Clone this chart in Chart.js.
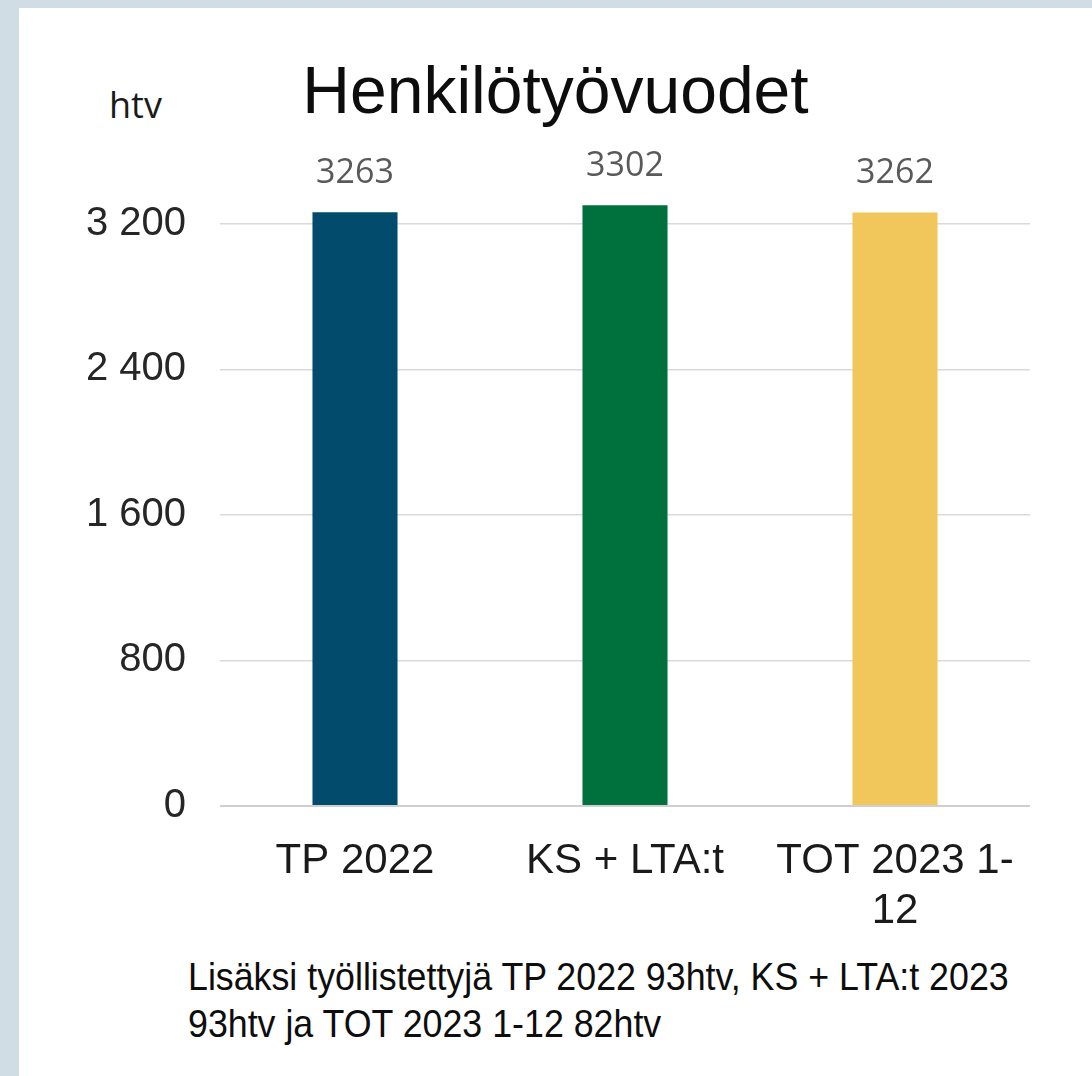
<!DOCTYPE html>
<html>
<head>
<meta charset="utf-8">
<script src="https://cdn.jsdelivr.net/npm/chart.js@4.4.0/dist/chart.umd.min.js"></script>
<style>
  html, body { margin: 0; padding: 0; }
  body { width: 1092px; height: 1076px; background: #d0dde4; position: relative; overflow: hidden; }
  #panel { position: absolute; left: 19px; top: 8px; right: 0; bottom: 0; background: #ffffff; }
  #wrap { position: absolute; left: 0; top: 0; width: 1092px; height: 950px; }
  #title { position: absolute; left: 19px; width: 1073px; top: 50px; text-align: center;
           font-family: "Liberation Sans", Arial, sans-serif; font-size: 66px; color: #0d0d0d; line-height: 80px; }
  #unit { position: absolute; left: 109px; top: 80px; font-family: "Open Sans", sans-serif; font-size: 36px; color: #1a1a1a; line-height: 50px; }
  #note { position: absolute; left: 188px; top: 953px; font-family: "Liberation Sans", Arial, sans-serif; white-space: nowrap;
          font-size: 39px; color: #0d0d0d; line-height: 47px; transform: scaleX(0.917); transform-origin: left top; }
</style>
</head>
<body>
<div id="panel"></div>
<div id="title">Henkilötyövuodet</div>
<div id="unit">htv</div>
<div id="wrap"><canvas id="c" width="1092" height="950"></canvas></div>
<div id="note">Lisäksi työllistettyjä TP 2022 93htv, KS + LTA:t 2023<br>93htv ja TOT 2023 1-12 82htv</div>
<script>
const categories = [["TP 2022"], ["KS + LTA:t"], ["TOT 2023 1-", "12"]];
const values = [3263, 3302, 3262];
const barColors = ["#024b6d", "#00713d", "#f1c65b"];
const yTicks = [0, 800, 1600, 2400, 3200];

function fmt(v) { return String(v).replace(/\B(?=(\d{3})+(?!\d))/g, " "); }

const valueLabels = {
  id: "valueLabels",
  afterDatasetsDraw(chart) {
    const ctx = chart.ctx;
    const meta = chart.getDatasetMeta(0);
    ctx.save();
    ctx.font = "34px 'Open Sans', sans-serif";
    ctx.fillStyle = "#595959";
    ctx.textAlign = "center";
    ctx.textBaseline = "alphabetic";
    meta.data.forEach((bar, i) => {
      ctx.fillText(String(values[i]), bar.x, bar.y - 29);
    });
    ctx.restore();
  }
};

new Chart(document.getElementById("c"), {
  type: "bar",
  data: {
    labels: categories,
    datasets: [{
      data: values,
      backgroundColor: barColors,
      borderWidth: 0,
      categoryPercentage: 1,
      barPercentage: 0.315
    }]
  },
  options: {
    responsive: false,
    animation: false,
    events: [],
    layout: { padding: { left: 20, right: 62, top: 151, bottom: 0 } },
    plugins: { legend: { display: false }, tooltip: { enabled: false }, title: { display: false } },
    scales: {
      x: {
        grid: { display: false, drawTicks: false },
        border: { display: false },
        ticks: { font: { family: "'Liberation Sans', Arial, sans-serif", size: 42, lineHeight: 1.2 }, color: "#1a1a1a", padding: 30, maxRotation: 0, autoSkip: false },
        afterFit(s) { s.height = 950 - 806; }
      },
      y: {
        min: 0, max: 3600,
        afterBuildTicks(s) { s.ticks = yTicks.map(v => ({ value: v })); },
        grid: {
          drawTicks: false,
          color: (c) => c.tick && c.tick.value === 0 ? "#cfcfcf" : "#d9d9d9",
          lineWidth: (c) => c.tick && c.tick.value === 0 ? 2 : 1.5
        },
        border: { display: false },
        ticks: { font: { family: "'Liberation Sans', Arial, sans-serif", size: 40 }, color: "#262626", padding: 34, callback: (v) => fmt(v) },
        afterFit(s) { s.width = 200; }
      }
    }
  },
  plugins: [valueLabels]
});
</script>
</body>
</html>
